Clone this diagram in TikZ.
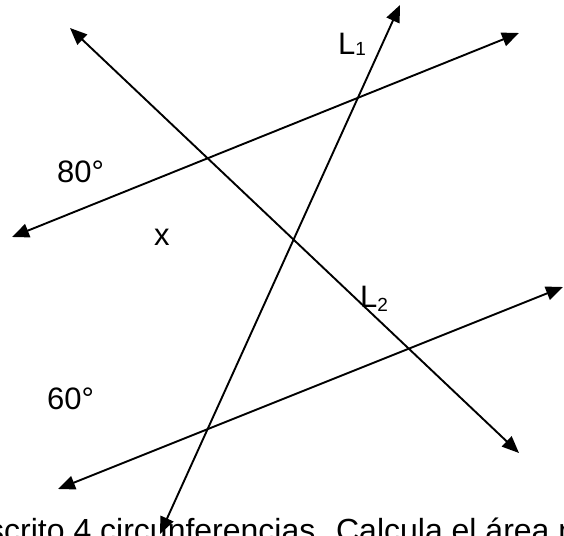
\documentclass[tikz,border=0pt]{standalone}
\usepackage{fontspec}
\setmainfont{Liberation Sans}
\usetikzlibrary{arrows.meta}
\tikzset{
  ln/.style={line width=1.9pt, {Triangle[length=17pt,width=14pt]}-{Triangle[length=17pt,width=14pt]}},
  lbl/.style={inner sep=0pt, anchor=base west, font=\fontsize{31}{36}\selectfont}
}
\newcommand{\subtxt}[2]{\raisebox{#1}{\fontsize{19}{22}\selectfont #2}}
\begin{document}
\begin{tikzpicture}[x=1pt,y=-1pt]
\clip (0,0) rectangle (564,535);
\fill[white] (0,0) rectangle (564,535);
% end points
\coordinate (a1) at (12,237);
\coordinate (a2) at (519,33);
\coordinate (b1) at (70,28);
\coordinate (b2) at (519,453);
\coordinate (c1) at (400,5);
\coordinate (c2) at (160,534);
\coordinate (d1) at (58,489);
\coordinate (d2) at (563,287);
\draw[ln] (a1) -- (a2);
\draw[ln] (b1) -- (b2);
\draw[ln] (c1) -- (c2);
\draw[ln] (d1) -- (d2);
% labels
\node[lbl] (t80) at (57,182) {80°};
\node[lbl] (tx) at (154,245) {x};
\node[lbl] (t60) at (47,409) {60°};
\node[lbl] (tL1) at (338,55) {L\subtxt{-1pt}{1}};
\node[lbl] (tL2) at (360,307) {L\subtxt{-4pt}{2}};
\node[inner sep=0pt, anchor=base west, font=\fontsize{32}{38}\selectfont] (bottom) at (-12,541) {scrito 4 circunferencias. Calcula el área n};
\end{tikzpicture}
\end{document}
